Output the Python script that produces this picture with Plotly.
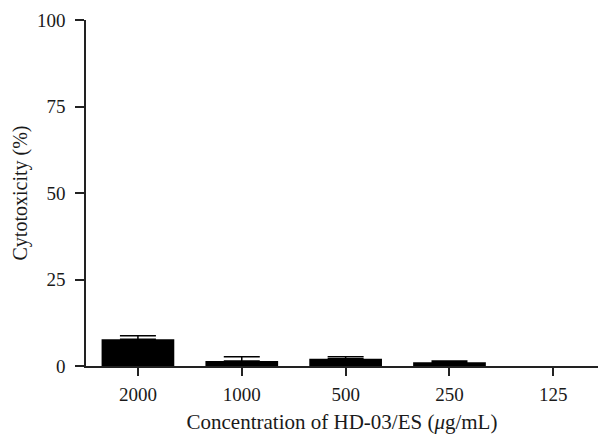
import math
import plotly.graph_objects as go

categories = ["2000", "1000", "500", "250", "125"]
values = [7.7, 1.45, 2.1, 1.05, 0.0]
errors = [1.05, 1.25, 0.6, 0.4, float("nan")]
y_ticks = [0, 25, 50, 75, 100]

fam = "Liberation Serif"
col = "#1a1a1a"

fig = go.Figure()
fig.add_trace(go.Bar(
    x=categories, y=values, width=0.7,
    marker=dict(color="black", line=dict(width=0)),
))

# upward-only error bars, drawn for points that have an error value
idx = [i for i, e in enumerate(errors) if not math.isnan(e)]
fig.add_trace(go.Scatter(
    x=[categories[i] for i in idx], y=[values[i] for i in idx],
    mode="markers", marker=dict(size=1, opacity=0), hoverinfo="skip",
    error_y=dict(type="data", array=[errors[i] for i in idx], arrayminus=[0] * len(idx),
                 symmetric=False, color="black", thickness=1.5, width=18, visible=True),
))

fig.update_layout(
    width=598, height=436,
    margin=dict(l=86, r=0, t=20, b=70),
    paper_bgcolor="white", plot_bgcolor="white",
    font=dict(family=fam, size=19, color=col), showlegend=False,
    xaxis=dict(
        range=[-0.5, 4.43], showline=True, linecolor="#222", linewidth=1.5,
        ticks="outside", ticklen=8, tickwidth=1.5, tickcolor="#222",
        showgrid=False, zeroline=False, ticklabelstandoff=2,
        tickfont=dict(family=fam, size=19, color=col),
        title=dict(text="Concentration of HD-03/ES (<i>μ</i>g/mL)", standoff=11,
                   font=dict(family=fam, size=21, color=col)),
    ),
    yaxis=dict(
        range=[0, 100], tickvals=y_ticks, showline=True, linecolor="#222", linewidth=1.5,
        ticks="outside", ticklen=9, tickwidth=1.5, tickcolor="#222",
        showgrid=False, zeroline=False, ticklabelstandoff=6,
        tickfont=dict(family=fam, size=19, color=col),
        title=dict(text="Cytotoxicity (%)", standoff=4,
                   font=dict(family=fam, size=20, color=col)),
    ),
)

fig.write_html("out.html")
